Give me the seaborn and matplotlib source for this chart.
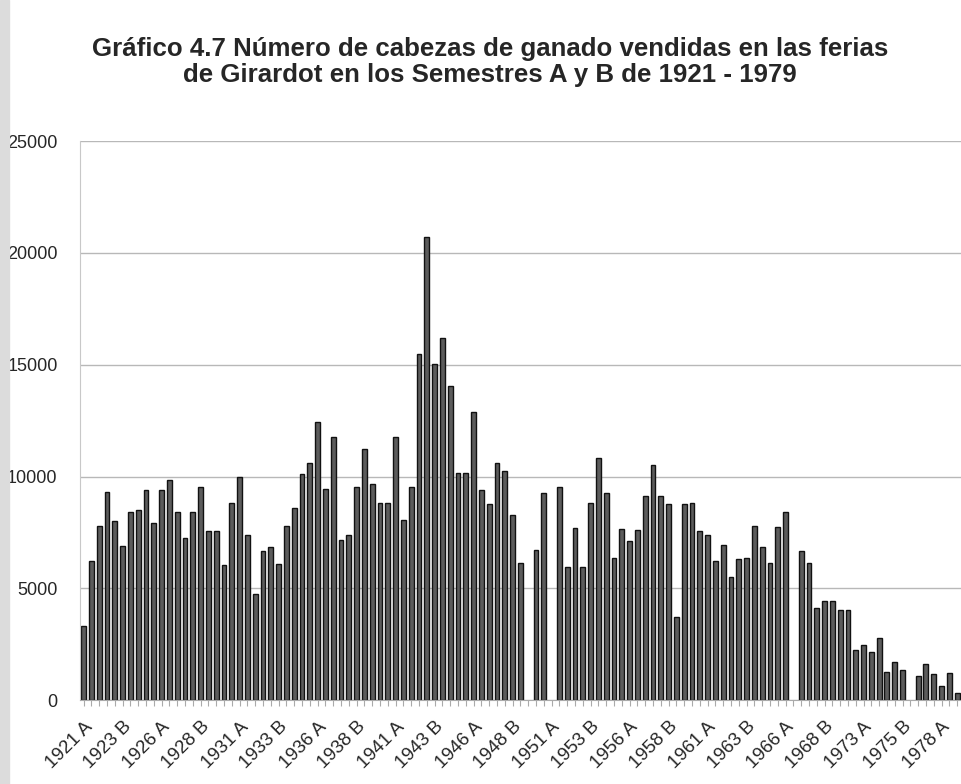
import numpy as np
import pandas as pd
import matplotlib
matplotlib.use("Agg")
import matplotlib.pyplot as plt
import seaborn as sns

# semesters: 1921 A .. 1968 B, then 1971 A .. 1979 A (no data 1969-1970)
years = list(range(1921, 1969)) + list(range(1971, 1980))
semestres = [f"{y} {s}" for y in years for s in ("A", "B")][:-1]

cabezas = [
    3300, 6200, 7800, 9300, 8000, 6900, 8400, 8500, 9400, 7900,
    9400, 9850, 8400, 7250, 8400, 9550, 7550, 7550, 6050, 8800,
    10000, 7400, 4750, 6650, 6850, 6100, 7800, 8600, 10100, 10600,
    12450, 9450, 11750, 7150, 7380, 9550, 11250, 9650, 8800, 8800,
    11750, 8050, 9550, 15500, 20700, 15050, 16200, 14050, 10150, 10150,
    12900, 9400, 8750, 10600, 10250, 8300, 6150, np.nan, 6700, 9250,
    np.nan, 9550, 5950, 7700, 5950, 8800, 10850, 9250, 6350, 7650,
    7100, 7600, 9150, 10500, 9150, 8750, 3700, 8750, 8800, 7550,
    7400, 6200, 6950, 5500, 6300, 6350, 7800, 6850, 6150, 7750,
    8400, np.nan, 6650, 6150, 4100, 4450, 4450, 4050, 4050, 2250,
    2450, 2150, 2800, 1250, 1700, 1350, np.nan, 1100, 1600, 1150,
    650, 1200, 300,
]

df = pd.DataFrame({"semestre": semestres, "cabezas": cabezas})

sns.set_style("white")
plt.rcParams["font.family"] = ["Liberation Sans", "DejaVu Sans"]

fig = plt.figure(figsize=(9.61, 7.84), dpi=100)
ax = fig.add_axes([0.083, 0.107, 0.917, 0.713])

# faint scan shadow on the left edge
fig.patches.append(plt.Rectangle((0, 0), 0.009, 1, transform=fig.transFigure,
                                 color="#dcdcdc", zorder=0))

sns.barplot(data=df, x="semestre", y="cabezas", order=semestres,
            color="#5c5c5c", edgecolor="#111111", linewidth=1.0,
            width=0.62, saturation=1, ax=ax)

ax.set_ylim(0, 25000)
ax.set_xlim(-0.5, len(semestres) - 0.5)
ax.set_yticks(range(0, 25001, 5000))
ax.yaxis.grid(True, color="#b8b8b8", linewidth=1.0)
ax.set_axisbelow(True)

ax.set_xticks(range(len(semestres)))
ax.set_xticklabels([s if i % 5 == 0 else "" for i, s in enumerate(semestres)],
                   rotation=45, ha="right", rotation_mode="anchor", fontsize=13.5)
ax.tick_params(axis="x", length=4, width=0.8, color="#aaaaaa", bottom=True, pad=9)
ax.tick_params(axis="y", length=0, labelsize=13, pad=16)

for side in ["top", "right"]:
    ax.spines[side].set_visible(False)
ax.spines["left"].set_color("#c8c8c8")
ax.spines["bottom"].set_color("#aaaaaa")

ax.set_xlabel("")
ax.set_ylabel("")

fig.text(0.51, 0.921, "Gráfico 4.7 Número de cabezas de ganado vendidas en las ferias\n"
         "de Girardot en los Semestres A y B de 1921 - 1979",
         ha="center", va="center", fontsize=18.6, fontweight="bold", linespacing=1.12)

fig.savefig("out.png", dpi=100)
